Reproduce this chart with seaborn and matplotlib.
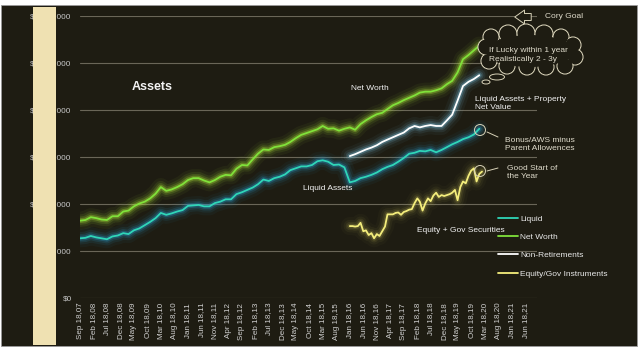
import pandas as pd
import matplotlib
matplotlib.use("Agg")
import matplotlib.pyplot as plt
import matplotlib.dates as mdates
import matplotlib.patheffects as pe
from matplotlib.patches import Rectangle, Ellipse, Circle
from matplotlib.lines import Line2D
from matplotlib.transforms import Affine2D
from matplotlib.ticker import FuncFormatter
import seaborn as sns

# values, in gridline steps (one step = $500,000)
net_worth = [1.645, 1.66, 1.72, 1.70, 1.67, 1.66, 1.74, 1.74, 1.84, 1.86,
             1.95, 2.01, 2.05, 2.12, 2.22, 2.36, 2.28, 2.31, 2.36, 2.42,
             2.51, 2.55, 2.55, 2.50, 2.46, 2.51, 2.58, 2.62, 2.61, 2.75,
             2.83, 2.82, 2.95, 3.07, 3.16, 3.15, 3.21, 3.23, 3.26, 3.32,
             3.40, 3.47, 3.51, 3.55, 3.59, 3.66, 3.60, 3.61, 3.56, 3.60,
             3.63, 3.58, 3.70, 3.78, 3.85, 3.91, 3.94, 4.02, 4.10, 4.15,
             4.21, 4.26, 4.31, 4.37, 4.39, 4.39, 4.42, 4.46, 4.55, 4.62,
             4.80, 5.08, 5.17, 5.27, 5.37]
liquid = [1.27, 1.28, 1.32, 1.29, 1.27, 1.25, 1.31, 1.33, 1.38, 1.36,
          1.44, 1.48, 1.55, 1.62, 1.70, 1.81, 1.77, 1.80, 1.84, 1.87,
          1.96, 1.97, 1.98, 1.95, 1.95, 2.02, 2.05, 2.10, 2.10, 2.21,
          2.25, 2.30, 2.35, 2.42, 2.52, 2.49, 2.55, 2.58, 2.63, 2.72,
          2.76, 2.80, 2.80, 2.83, 2.91, 2.93, 2.90, 2.83, 2.84, 2.78,
          2.46, 2.49, 2.55, 2.58, 2.62, 2.67, 2.74, 2.79, 2.83, 2.90,
          2.98, 3.07, 3.09, 3.13, 3.12, 3.15, 3.10, 3.15, 3.21, 3.27,
          3.32, 3.38, 3.42, 3.48, 3.60]
non_retirement = [3.02, 3.06, 3.11, 3.16, 3.20, 3.25, 3.32, 3.37, 3.42, 3.47,
                  3.52, 3.61, 3.66, 3.63, 3.66, 3.68, 3.66, 3.66, 3.78, 3.90,
                  4.20, 4.51, 4.60, 4.66, 4.74]
equity_gov = [1.53, 1.53, 1.52, 1.53, 1.60, 1.42, 1.44, 1.34, 1.38, 1.27,
              1.36, 1.32, 1.42, 1.52, 1.78, 1.78, 1.78, 1.81, 1.82, 1.77,
              1.83, 1.85, 1.88, 1.89, 2.02, 2.12, 2.05, 1.86, 2.01, 2.12,
              2.06, 2.18, 2.24, 2.15, 2.19, 2.17, 2.19, 2.21, 2.24, 2.30,
              2.08, 2.36, 2.48, 2.44, 2.60, 2.71, 2.76, 2.48, 2.64, 2.69]

main_dates = pd.date_range("2007-09-18", periods=len(net_worth), freq=pd.DateOffset(months=2))
nonret_dates = main_dates[-len(non_retirement):]
equity_dates = pd.date_range("2016-01-18", periods=len(equity_gov), freq=pd.DateOffset(months=1))
tick_dates = pd.date_range("2007-09-18", "2021-06-18", freq=pd.DateOffset(months=5))
y_step = 500000

series_names = ["Liquid", "Net Worth", "Non-Retirements", "Equity/Gov Instruments"]
colors = ["#2fd6b8", "#80e23a", "#ffffff", "#f4ee7c"]
glow_colors = ["#2a9fd0", "#b4ee3c", "#7cc8e8", "#d8d060"]

W, H = 640, 356
BG = "#1e1c12"

sns.set_style("dark")
plt.rcParams["font.family"] = ["Liberation Sans", "DejaVu Sans"]

fig = plt.figure(figsize=(W / 100, H / 100), dpi=100, facecolor="white")
ax = fig.add_axes([80 / W, 1 - 298 / H, (537 - 80) / W, (298 - 16) / H])
ax.set_facecolor(BG)

# pixel coordinates measured from the top-left corner of the picture
pix = Affine2D().scale(1 / W, -1 / H).translate(0, 1) + fig.transFigure

fig.patches.append(Rectangle((1, 5), 636, 341, transform=pix, facecolor=BG,
                             edgecolor="#9a9a9a", lw=0.6, zorder=-1))

# ---------------- LINES ----------------
frames = [
    pd.DataFrame({"date": main_dates, "value": liquid}),
    pd.DataFrame({"date": main_dates, "value": net_worth}),
    pd.DataFrame({"date": nonret_dates, "value": non_retirement}),
    pd.DataFrame({"date": equity_dates, "value": equity_gov}),
]
strength = [1.0, 1.0, 1.0, 0.6]
for df, c, g, s in zip(frames, colors, glow_colors, strength):
    sns.lineplot(data=df, x="date", y="value", color=c, lw=1.3, ax=ax)
    ax.lines[-1].set_path_effects([
        pe.Stroke(linewidth=13, foreground=g, alpha=0.05 * s),
        pe.Stroke(linewidth=9, foreground=g, alpha=0.09 * s),
        pe.Stroke(linewidth=6, foreground=g, alpha=0.15 * s),
        pe.Stroke(linewidth=3.5, foreground=g, alpha=0.28 * s),
        pe.Normal(),
    ])

# ---------------- AXES ----------------
ax.set_ylim(0, 6)
ax.set_yticks(range(0, 7))
ax.yaxis.set_major_formatter(FuncFormatter(lambda v, p: "$0" if v == 0 else f"${v * y_step:,.0f}"))
ax.set_xlim(pd.Timestamp("2007-09-18"), pd.Timestamp("2021-10-30"))
ax.set_xticks(tick_dates)
ax.xaxis.set_major_formatter(mdates.DateFormatter("%b %d,%y"))
ax.tick_params(axis="x", labelrotation=90, labelsize=5.8, colors="#d0d0d0", length=0, pad=3.5)
ax.tick_params(axis="y", labelsize=5.9, colors="#c8c8c8", length=0, pad=6)
ax.set_xlabel("")
ax.set_ylabel("")
ax.grid(False)
ax.yaxis.grid(True, color="#6a6658", lw=0.8)
for sp in ax.spines.values():
    sp.set_visible(False)

# beige strip hiding the y labels
fig.patches.append(Rectangle((33, 7), 23, 338, transform=pix, facecolor="#efe1b2",
                             edgecolor="none", zorder=2))

# ---------------- LEGEND ----------------
handles = [Line2D([], [], color=c, lw=1.3) for c in colors]
leg = ax.legend(handles, series_names, loc="upper left", bbox_to_anchor=(498 / W, 1 - 215 / H),
                bbox_transform=fig.transFigure, frameon=False, fontsize=6, handlelength=2.4,
                handletextpad=0.25, labelspacing=1.25, borderpad=0, borderaxespad=0)
for t in leg.get_texts():
    t.set_color("#e8e8e8")

# ---------------- ANNOTATIONS ----------------
txt = dict(transform=pix, color="#f2f2f2", fontsize=6, va="center")
fig.text(152, 87, "Assets", ha="center", fontweight="bold", **{**txt, "fontsize": 9})
fig.text(370, 89, "Net Worth", ha="center", **txt)
fig.text(475, 103.5, "Liquid Assets + Property\nNet Value", ha="left", linespacing=1.3, **txt)
fig.text(303, 189, "Liquid Assets", ha="left", **txt)
fig.text(417, 230, "Equity + Gov Securities", ha="left", **txt)
fig.text(505, 144, "Bonus/AWS minus\nParent Allowences", ha="left", linespacing=1.2,
         **{**txt, "color": "#e0dccc"})
fig.text(507, 172.5, "Good Start of\nthe Year", ha="left", linespacing=1.3,
         **{**txt, "color": "#e0dccc"})
fig.text(545, 17, "Cory Goal", ha="left", **{**txt, "color": "#e0dccc"})

edge = "#d8d2b8"
# goal arrow
ax.annotate("", xy=(512, 17), xytext=(534, 17), xycoords=pix, textcoords=pix,
            arrowprops=dict(arrowstyle="simple,head_length=0.7,head_width=1.0,tail_width=0.5",
                            fc=BG, ec=edge, lw=0.7))

# circles and leader lines
for cy, ty in [(130, 137), (171, 168)]:
    fig.patches.append(Circle((480, cy), 5.5, transform=pix, fill=False, ec=edge, lw=0.7, zorder=3))
    fig.lines.append(Line2D([487, 498], [cy + 2 if cy == 130 else cy, ty], transform=pix,
                            color=edge, lw=0.7))

# thought cloud
bumps = [(491, 37, 8), (508, 34, 9), (526, 33, 9), (544, 34, 9), (561, 37, 8),
         (573, 45, 8), (575, 57, 8), (565, 66, 8), (546, 67, 8), (527, 67, 8),
         (507, 66, 8), (489, 61, 8), (486, 47, 8)]
for cx, cy, r in bumps:
    fig.patches.append(Circle((cx, cy), r, transform=pix, fc=BG, ec=edge, lw=0.8, zorder=3))
for cx, cy, r in bumps:
    fig.patches.append(Circle((cx, cy), r - 0.8, transform=pix, fc=BG, ec="none", zorder=4))
fig.patches.append(Ellipse((530, 51), 88, 32, transform=pix, fc=BG, ec="none", zorder=4))
fig.patches.append(Ellipse((497, 77), 15, 6, transform=pix, fc=BG, ec=edge, lw=0.7, zorder=3))
fig.patches.append(Ellipse((486, 82), 8, 4, transform=pix, fc=BG, ec=edge, lw=0.7, zorder=3))
fig.text(489, 55, "If Lucky within 1 year\nRealistically 2 - 3y", ha="left", linespacing=1.45,
         zorder=5, **{**txt, "color": "#e0dccc"})

plt.savefig("out.png", dpi=100, facecolor="white")
